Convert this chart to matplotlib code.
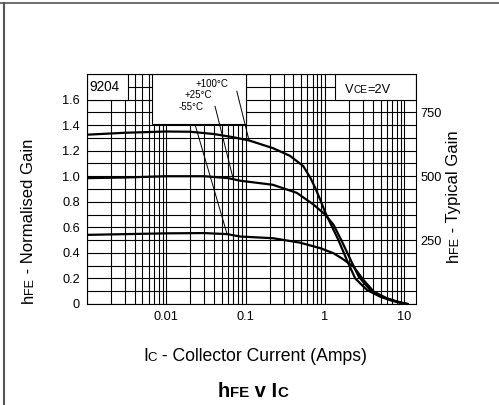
import numpy as np
import matplotlib
matplotlib.use('Agg')
import matplotlib.pyplot as plt
from matplotlib.ticker import LogLocator, MultipleLocator, NullFormatter
from matplotlib.patches import Rectangle
from matplotlib.lines import Line2D

plt.rcParams['font.family'] = ['Liberation Sans', 'DejaVu Sans']

# Collector current (A) and normalised gain
ic_100 = [0.001, 0.003, 0.01, 0.02, 0.04, 0.07, 0.11, 0.22, 0.36, 0.53, 0.65,
          0.75, 0.87, 1.0, 1.17, 1.47, 1.88, 2.4, 3.37, 4.95, 7.0, 10.5]
hfe_100 = [1.325, 1.34, 1.35, 1.348, 1.33, 1.305, 1.28, 1.22, 1.16, 1.08, 0.99,
           0.91, 0.816, 0.72, 0.63, 0.502, 0.345, 0.2, 0.11, 0.057, 0.025, 0.0]

ic_25 = [0.001, 0.003, 0.01, 0.03, 0.06, 0.085, 0.22, 0.44, 0.71, 1.0, 1.28,
         1.63, 2.1, 2.66, 3.7, 5.4, 8.0, 11.0]
hfe_25 = [0.985, 0.99, 1.0, 1.0, 0.985, 0.965, 0.933, 0.87, 0.78, 0.70, 0.62,
          0.49, 0.345, 0.214, 0.11, 0.052, 0.02, 0.0]

ic_m55 = [0.001, 0.01, 0.03, 0.058, 0.085, 0.22, 0.485, 0.87, 1.28, 1.6, 2.28,
          3.05, 4.1, 6.05, 8.9, 11.0]
hfe_m55 = [0.541, 0.553, 0.555, 0.547, 0.528, 0.515, 0.48, 0.437, 0.397, 0.36,
           0.293, 0.188, 0.097, 0.044, 0.01, 0.0]

x_ticks = [0.01, 0.1, 1, 10]
x_labels = ['0.01', '0.1', '1', '10']
y_ticks = [0, 0.2, 0.4, 0.6, 0.8, 1.0, 1.2, 1.4, 1.6]
y_labels = ['0', '0.2', '0.4', '0.6', '0.8', '1.0', '1.2', '1.4', '1.6']
typ_ticks = [250, 500, 750]

W, H = 499, 405
fig = plt.figure(figsize=(W / 100, H / 100), dpi=100)

def fx(px):
    return px / W

def fy(py):
    return 1 - py / H

ax = fig.add_axes([fx(87), fy(304), (416 - 87) / W, (304 - 74) / H])
ax.set_xscale('log')
ax.set_xlim(0.001, 14)
ax.set_ylim(0, 1.8)

ax.xaxis.set_minor_locator(LogLocator(base=10, subs=np.arange(1, 10)))
ax.xaxis.set_minor_formatter(NullFormatter())
ax.set_xticks(x_ticks)
ax.set_xticklabels(x_labels)
ax.set_yticks(y_ticks)
ax.set_yticklabels(y_labels)
ax.yaxis.set_minor_locator(MultipleLocator(0.1))
ax.tick_params(which='both', length=0, labelsize=9.2)
ax.tick_params(axis='y', pad=5)
ax.tick_params(axis='x', pad=5)
ax.grid(True, which='both', color='black', lw=0.8)
ax.set_axisbelow(True)
for s in ax.spines.values():
    s.set_color('black')
    s.set_linewidth(0.8)

# white label boxes that cover the grid
ax.add_patch(Rectangle((0.001, 1.6), 0.00225, 0.2, facecolor='white',
                       edgecolor='black', lw=0.8, zorder=2))
ax.add_patch(Rectangle((0.0065, 1.41), 0.1 - 0.0065, 0.39, facecolor='white',
                       edgecolor='black', lw=0.8, zorder=2))
ax.add_patch(Rectangle((1.35, 1.6), 14 - 1.35, 0.2, facecolor='white',
                       edgecolor='black', lw=0.8, zorder=2))

for xs, ys in [(ic_100, hfe_100), (ic_25, hfe_25), (ic_m55, hfe_m55)]:
    ax.plot(xs, ys, color='black', lw=1.6, zorder=4)

# leader lines from the temperature labels
ax.plot([0.0773, 0.110], [1.665, 1.282], color='black', lw=0.7, zorder=5)
ax.plot([0.0411, 0.070], [1.547, 0.973], color='black', lw=0.7, zorder=5)
ax.plot([0.0230, 0.0578], [1.404, 0.555], color='black', lw=0.7, zorder=5)

ax.text(0.00106, 1.7, '9204', fontsize=9.8, va='center', ha='left', zorder=5)
fig.text(fx(212), fy(84), '+100°C', fontsize=7, ha='center', va='center')
fig.text(fx(198), fy(95), '+25°C', fontsize=7, ha='center', va='center')
fig.text(fx(191), fy(107), '-55°C', fontsize=7, ha='center', va='center')

# right hand axis in typical gain
ax2 = ax.twinx()
ax2.set_ylim(0, 900)
ax2.set_yticks(typ_ticks)
ax2.set_yticklabels([str(t) for t in typ_ticks])
ax2.tick_params(length=0, labelsize=9.2, pad=3)
for s in ax2.spines.values():
    s.set_visible(False)


def chain_h(x, y, parts, weight='normal'):
    # horizontal text pieces of different sizes on one baseline
    r = fig.canvas.get_renderer()
    cur = x
    for txt, size in parts:
        t = fig.text(fx(cur), fy(y), txt, fontsize=size, weight=weight,
                     ha='left', va='baseline')
        cur += t.get_window_extent(renderer=r).width
    return cur


def chain_v(x, y, parts):
    # rotated pieces, reading bottom to top, baseline at pixel column x
    r = fig.canvas.get_renderer()
    cur = y
    for txt, size in parts:
        t = fig.text(fx(x), fy(cur), txt, fontsize=size, rotation=90,
                     rotation_mode='anchor', ha='left', va='baseline')
        cur -= t.get_window_extent(renderer=r).height
    return cur


fig.canvas.draw()
chain_h(143, 361, [('I', 12.7), ('C', 9.5), (' - Collector Current (Amps)', 12.7)])
chain_h(218, 397, [('h', 14.5), ('FE', 10.8), (' v I', 14.5), ('C', 10.8)],
        weight='bold')
chain_v(33, 303, [('h', 12), ('FE', 9), (' - Normalised Gain', 12)])
chain_v(458, 262, [('h', 12), ('FE', 9), (' - Typical Gain', 12)])
chain_h(345, 93, [('V', 9.2), ('CE', 7.2), ('=2V', 9.2)])

# outer frame lines at top and left
fig.add_artist(Line2D([0, 1], [fy(2.5), fy(2.5)], transform=fig.transFigure,
                      color='#555555', lw=1.2))
fig.add_artist(Line2D([fx(3.5), fx(3.5)], [0, fy(2.5)], transform=fig.transFigure,
                      color='#555555', lw=1.5))

fig.savefig('out.png', dpi=100)
